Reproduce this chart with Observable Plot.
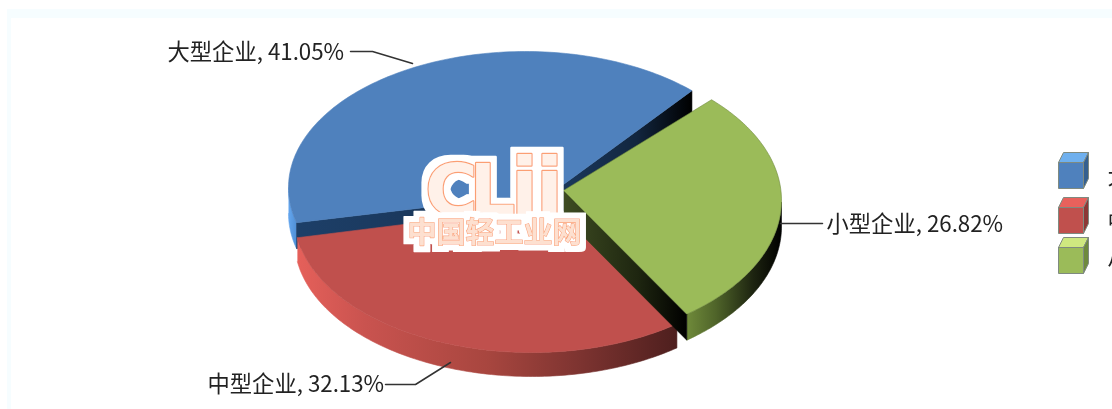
<!DOCTYPE html>
<html><head><meta charset="utf-8">
<script src="https://cdn.jsdelivr.net/npm/d3@7"></script>
<script src="https://cdn.jsdelivr.net/npm/@observablehq/plot@0.6"></script>
<style>
html,body{margin:0;padding:0;background:#fff;overflow:hidden}
#c{position:relative;width:1112px;height:409px;overflow:hidden}
#c svg{display:block;background:transparent;position:absolute;left:0;top:0;filter:blur(0.45px)}
#band{position:absolute;left:7px;top:9px;width:1105px;height:400px;border-top:9px solid #f6fdff;border-left:4px solid #f6fdff;box-sizing:border-box}
</style></head><body><div id="c"><div id="band"></div></div>
<script>
// data
const categories = ["大型企业", "中型企业", "小型企业"];
const shares = [41.05, 32.13, 26.82];
const topColors = ["#4f81bd", "#c0504d", "#9bbb59"];
const logoLetters = ["C", "L", "i", "i"];
const logoSubtitle = "中国轻工业网";

// layout of the pie (screen units of the x/y scales)
const startAngle = 44.4, depths = [26, 24, 26];
const ellipseCx = [525, 531, 536], ellipseCy = [187, 216, 200];
const ellipseRx = [237, 237, 245], ellipseRy = [136, 136, 144];
const apexX = [552, 555, 563], apexY = [192, 205, 190];
const perspectiveStart = [1, -3.2, 0], perspectiveEnd = [2.8, 0, 0];
const labelX = [167, 207, 826], labelY = [52, 384, 224];
const leaderX = [[350, 372, 412], [385, 415, 450], [780, 822]];
const leaderY = [[51, 51, 63], [384, 384, 362], [223, 223]];
const legendX = 1058, legendY = [162, 207, 247], cube = {w: 25, h: 26, dx: 5, dy: 10};
const legendTextX = 1107;
const logoX = [451, 492, 524, 549], logoSize = [72, 72, 80, 80], logoBaseline = 214;
const subX = 494, subY = 233;

const rad = Math.PI / 180;
let acc = startAngle;
const slices = categories.map((name, i) => {
  const a0 = acc + perspectiveStart[i], a1 = acc + shares[i] * 3.6 + perspectiveEnd[i];
  acc += shares[i] * 3.6;
  const P = (t) => ({x: ellipseCx[i] + ellipseRx[i] * Math.cos(t * rad), y: ellipseCy[i] - ellipseRy[i] * Math.sin(t * rad), t});
  const arc = d3.range(0, 121).map(k => P(a0 + (a1 - a0) * k / 120));
  const apex = {x: apexX[i], y: apexY[i]};
  const down = p => ({x: p.x, y: p.y + depths[i]});
  const front = arc.filter(p => Math.sin(p.t * rad) < 0.001);
  return {
    name, i, arc, apex,
    top: [apex, ...arc, apex],
    wall: [...front, ...front.slice().reverse().map(down)],
    cut0: [apex, arc[0], down(arc[0]), down(apex)],
    cut1: [apex, arc[arc.length - 1], down(arc[arc.length - 1]), down(apex)]
  };
});

const gradients = {
  wall0: [[0, "#64a6ee"], [1, "#4f8fd6"]],
  cutB0: [[0, "#1c3b60"], [.6, "#12263f"], [1, "#000"]],
  cutB1: [[0, "#1d3f68"], [1, "#16304f"]],
  wall1: [[0, "#e5605a"], [.18, "#c9534f"], [.5, "#a8463f"], [.75, "#7c3330"], [1, "#4e1f1e"]],
  wall2: [[0, "#6f8a3a"], [.3, "#50652a"], [.7, "#1d2410"], [1, "#000"]],
  cutG1: [[0, "#3e4c22"], [.6, "#1e2610"], [1, "#000"]]
};
const defs = () => {
  const d = d3.create("svg:defs");
  for (const [id, stops] of Object.entries(gradients)) {
    const g = d.append("linearGradient").attr("id", id);
    for (const [o, c] of stops) g.append("stop").attr("offset", o).attr("stop-color", c);
  }
  const f = d.append("filter").attr("id", "halo").attr("x", "-30%").attr("y", "-30%").attr("width", "160%").attr("height", "160%");
  f.append("feMorphology").attr("in", "SourceAlpha").attr("operator", "dilate").attr("radius", 6).attr("result", "d");
  f.append("feFlood").attr("flood-color", "#fff").attr("result", "w");
  f.append("feComposite").attr("in", "w").attr("in2", "d").attr("operator", "in").attr("result", "h");
  const m = f.append("feMerge");
  m.append("feMergeNode").attr("in", "h");
  m.append("feMergeNode").attr("in", "SourceGraphic");
  return d.node();
};

const xy = {x: "x", y: "y", curve: "linear"};
const face = (pts, fill, extra = {}) => Plot.line(pts, {...xy, fill, stroke: fill, strokeWidth: 0.6, ...extra});

const marks = [defs];
// blue
marks.push(face(slices[0].wall, "url(#wall0)"));
marks.push(face(slices[0].cut0, "url(#cutB0)"));
marks.push(face(slices[0].cut1, "url(#cutB1)"));
marks.push(face(slices[0].top, topColors[0]));
// red
marks.push(face(slices[1].wall, "url(#wall1)"));
marks.push(face(slices[1].top, topColors[1]));
// green
marks.push(face(slices[2].wall, "url(#wall2)"));
marks.push(face(slices[2].cut0, "url(#cutG1)"));
marks.push(face(slices[2].top, topColors[2], {stroke: "#6f8a3c"}));

// leaders
leaderX.forEach((xs, i) => {
  marks.push(Plot.line(xs.map((x, k) => ({x, y: leaderY[i][k]})), {...xy, stroke: "#333", strokeWidth: 1.5}));
});

// labels
const labels = categories.map((c, i) => ({x: labelX[i], y: labelY[i], text: `${c}, ${shares[i].toFixed(2)}%`}));
marks.push(Plot.text(labels, {x: "x", y: "y", text: "text", textAnchor: "start", fontSize: 22.3, fill: "#222",
  fontFamily: "'Noto Sans CJK SC','Liberation Sans',sans-serif"}));

// legend cubes
const cubeColors = [["#4f81bd", "#6fb0ee", "#35608f"], ["#c0504d", "#e8615c", "#8c3836"], ["#9bbb59", "#cfe880", "#6e8a3d"]];
legendY.forEach((y, i) => {
  const {w, h, dx, dy} = cube, x = legendX;
  const E = "#7f8a80";
  marks.push(face([{x, y}, {x: x + dx, y: y - dy}, {x: x + w + dx, y: y - dy}, {x: x + w, y}, {x, y}], cubeColors[i][1], {stroke: E, strokeWidth: 1}));
  marks.push(face([{x: x + w, y}, {x: x + w + dx, y: y - dy}, {x: x + w + dx, y: y + h - dy}, {x: x + w, y: y + h}, {x: x + w, y}], cubeColors[i][2], {stroke: E, strokeWidth: 1}));
  marks.push(face([{x, y}, {x: x + w, y}, {x: x + w, y: y + h}, {x, y: y + h}, {x, y}], cubeColors[i][0], {stroke: E, strokeWidth: 1}));
});
marks.push(Plot.text(categories, {x: () => legendTextX, y: (d, i) => legendY[i] + 14, text: d => d, textAnchor: "start", fontSize: 22, fill: "#222",
  fontFamily: "'Noto Sans CJK SC',sans-serif"}));

// logo
const logoPts = logoLetters.map((text, i) => ({text, x: logoX[i], y: logoBaseline, size: logoSize[i]}));
marks.push(Plot.text(logoPts, {x: "x", y: "y", text: "text", fontSize: d => d.size, lineAnchor: "bottom",
  fontFamily: "'DejaVu Sans',sans-serif", fontWeight: "bold", fill: "#fff1e9", stroke: "#fb9f73", strokeWidth: 2.4,
  strokeLinejoin: "round", imageFilter: "url(#halo)"}));
marks.push(Plot.text([{text: logoSubtitle, x: subX, y: subY}], {x: "x", y: "y", text: "text", fontSize: 29,
  fontFamily: "'Noto Sans CJK SC',sans-serif", fontWeight: "bold", fill: "#fde0d0", stroke: "#fb9f73", strokeWidth: 1.2,
  imageFilter: "url(#halo)"}));

const plot = Plot.plot({
  width: 1112, height: 409, margin: 0,
  x: {domain: [0, 1112], range: [0, 1112], axis: null},
  y: {domain: [0, 409], range: [0, 409], axis: null},
  style: {background: "transparent"},
  marks
});
document.getElementById("c").appendChild(plot);
</script></body></html>
